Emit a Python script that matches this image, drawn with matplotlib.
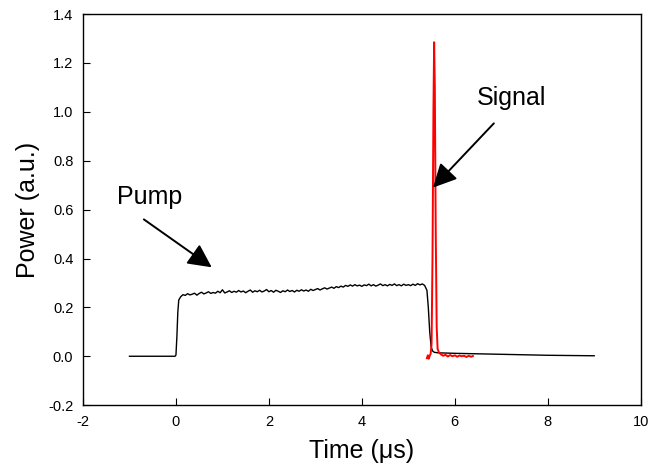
import matplotlib
matplotlib.use("Agg")
import matplotlib.pyplot as plt

plt.rcParams['font.family'] = ['Liberation Sans', 'DejaVu Sans']

# Pump trace (black)
pump_t = [-1.0, -0.5, -0.02, 0.0, 0.02, 0.04, 0.06,
          0.10, 0.15, 0.20, 0.25, 0.30, 0.35, 0.40, 0.45, 0.50, 0.55, 0.60, 0.65, 0.70, 0.75, 0.80, 0.85, 0.90, 0.95,
          1.00, 1.05, 1.10, 1.15, 1.20, 1.25, 1.30, 1.35, 1.40, 1.45, 1.50, 1.55, 1.60, 1.65, 1.70, 1.75, 1.80, 1.85, 1.90, 1.95,
          2.00, 2.05, 2.10, 2.15, 2.20, 2.25, 2.30, 2.35, 2.40, 2.45, 2.50, 2.55, 2.60, 2.65, 2.70, 2.75, 2.80, 2.85, 2.90, 2.95,
          3.00, 3.05, 3.10, 3.15, 3.20, 3.25, 3.30, 3.35, 3.40, 3.45, 3.50, 3.55, 3.60, 3.65, 3.70, 3.75, 3.80, 3.85, 3.90, 3.95,
          4.00, 4.05, 4.10, 4.15, 4.20, 4.25, 4.30, 4.35, 4.40, 4.45, 4.50, 4.55, 4.60, 4.65, 4.70, 4.75, 4.80, 4.85, 4.90, 4.95,
          5.00, 5.05, 5.10, 5.15, 5.20, 5.25, 5.30, 5.35, 5.40, 5.43, 5.46, 5.49, 5.52, 5.56, 5.65,
          6.0, 6.5, 7.0, 7.5, 8.0, 8.5, 9.0]
pump_p = [0.0, 0.0, 0.0, 0.005, 0.08, 0.18, 0.23,
          0.243, 0.252, 0.249, 0.256, 0.251, 0.254, 0.258, 0.250, 0.257, 0.262, 0.255, 0.259, 0.264, 0.257, 0.261, 0.258, 0.266, 0.260,
          0.272, 0.259, 0.263, 0.268, 0.261, 0.266, 0.262, 0.269, 0.263, 0.267, 0.260, 0.266, 0.271, 0.262, 0.268, 0.264, 0.270, 0.263, 0.267, 0.273,
          0.264, 0.269, 0.262, 0.270, 0.266, 0.261, 0.268, 0.264, 0.271, 0.265, 0.269, 0.263, 0.270, 0.266, 0.272, 0.267, 0.271, 0.266, 0.274, 0.269,
          0.273, 0.277, 0.271, 0.276, 0.280, 0.275, 0.279, 0.283, 0.278, 0.285, 0.281, 0.287, 0.283, 0.290, 0.286, 0.292, 0.287, 0.293, 0.288, 0.291,
          0.286, 0.292, 0.289, 0.295, 0.288, 0.293, 0.287, 0.291, 0.296, 0.289, 0.293, 0.288, 0.294, 0.290, 0.296, 0.289, 0.293, 0.288, 0.295, 0.290,
          0.293, 0.289, 0.295, 0.290, 0.297, 0.292, 0.296, 0.290, 0.270, 0.200, 0.100, 0.040, 0.022, 0.016, 0.014,
          0.012, 0.010, 0.008, 0.006, 0.004, 0.003, 0.002]

# Signal trace (red)
sig_t = [5.40, 5.42, 5.44, 5.46, 5.48, 5.50, 5.52, 5.54, 5.555, 5.57, 5.59, 5.61, 5.63, 5.66, 5.70,
         5.75, 5.80, 5.85, 5.90, 5.95, 6.00, 6.05, 6.10, 6.15, 6.20, 6.25, 6.30, 6.35, 6.39]
sig_p = [-0.008, 0.004, -0.010, 0.002, 0.010, 0.050, 0.40, 1.00, 1.285, 1.10, 0.50, 0.12, 0.03, 0.015, 0.008,
         0.002, 0.006, -0.001, 0.005, 0.000, 0.004, -0.002, 0.003, 0.000, 0.002, -0.003, 0.002, -0.002, 0.001]

x_ticks = [-2, 0, 2, 4, 6, 8, 10]
y_ticks = [-0.2, 0.0, 0.2, 0.4, 0.6, 0.8, 1.0, 1.2, 1.4]

fig = plt.figure(figsize=(6.5, 4.7), dpi=100)
ax = fig.add_axes([0.1277, 0.138, 0.858, 0.832])

ax.plot(pump_t, pump_p, color='black', lw=1.0)
ax.plot(sig_t, sig_p, color='red', lw=1.4)

ax.set_xlim(-2, 10)
ax.set_ylim(-0.2, 1.4)
ax.set_xticks(x_ticks)
ax.set_yticks(y_ticks)
ax.set_xticklabels([str(v) for v in x_ticks])
ax.set_yticklabels(['%.1f' % v for v in y_ticks])
ax.tick_params(direction='in', length=5, width=0.8, labelsize=10.5, top=False, right=False, pad=7)
for s in ax.spines.values():
    s.set_linewidth(1.0)

ax.set_xlabel('Time (\u03bcs)', fontsize=18, labelpad=7)
ax.set_ylabel('Power (a.u.)', fontsize=18, labelpad=6)

ax.annotate('', xy=(0.77, 0.364), xytext=(-0.69, 0.56),
            arrowprops=dict(arrowstyle='-|>', mutation_scale=36, lw=1.4, color='black', shrinkA=0, shrinkB=0))
ax.text(-0.56, 0.65, 'Pump', fontsize=18, ha='center', va='center')

ax.annotate('', xy=(5.53, 0.69), xytext=(6.84, 0.953),
            arrowprops=dict(arrowstyle='-|>', mutation_scale=36, lw=1.4, color='black', shrinkA=0, shrinkB=0))
ax.text(7.23, 1.056, 'Signal', fontsize=18, ha='center', va='center')

fig.savefig('out.png', dpi=100)
